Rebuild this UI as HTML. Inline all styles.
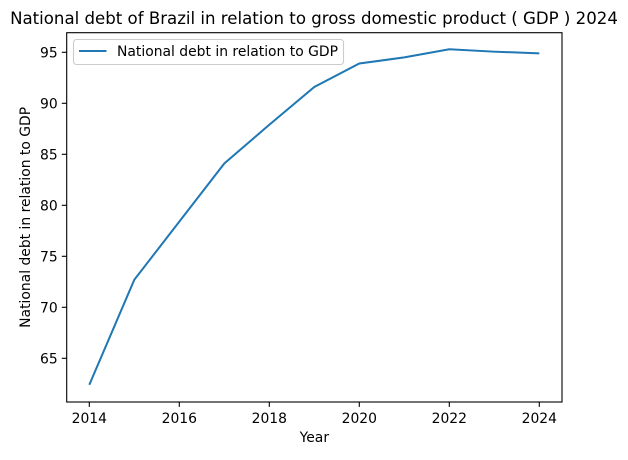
<!DOCTYPE html>
<html><head><meta charset="utf-8"><style>
body{margin:0;background:#fff;font-family:"Liberation Sans","DejaVu Sans",sans-serif;}
</style></head><body>
<svg id="chart" width="628" height="455" xmlns="http://www.w3.org/2000/svg" font-family="'DejaVu Sans','Liberation Sans',sans-serif">
<text x="314" y="24" text-anchor="middle" font-size="16.6">National debt of Brazil in relation to gross domestic product ( GDP ) 2024</text>
<g id="plot"></g>
</svg>
<script>
const years=[2014,2015,2016,2017,2018,2019,2020,2021,2022,2023,2024];
const debt=[62.4,72.7,78.4,84.1,87.9,91.6,93.9,94.5,95.3,95.06,94.9];
const xTicks=[2014,2016,2018,2020,2022,2024];
const yTicks=[65,70,75,80,85,90,95];
const L=66.7,R=562,T=32.7,B=402;
const sx=v=>89.3+(v-2014)*45;
const sy=v=>358.3-(v-65)*10.2;
const NS='http://www.w3.org/2000/svg';
const g=document.getElementById('plot');
function mk(t,a){const e=document.createElementNS(NS,t);for(const k in a)e.setAttribute(k,a[k]);g.appendChild(e);return e;}
xTicks.forEach(v=>{
 const l=mk('line',{x1:sx(v),x2:sx(v),y1:B,y2:B+4.9,stroke:'#000','stroke-width':1.1});
 
 
 const t=mk('text',{x:sx(v),y:B+21,'text-anchor':'middle','font-size':13.9});
 t.textContent=v;
 
 
});
yTicks.forEach(v=>{
 const l=mk('line',{x1:L-4.9,x2:L,y1:sy(v),y2:sy(v),stroke:'#000','stroke-width':1.1});
 
 
 const t=mk('text',{x:L-9,y:sy(v)+5,'text-anchor':'end','font-size':13.9});
 t.textContent=v;
 
 
});
const p=mk('polyline',{points:years.map((y,i)=>sx(y)+','+sy(debt[i])).join(' '),fill:'none',stroke:'#1f77b4','stroke-width':2});


const f=mk('rect',{x:L,y:T,width:R-L,height:B-T,fill:'none',stroke:'#000','stroke-width':1.1});


const xt=mk('text',{x:(L+R)/2,y:442,'text-anchor':'middle','font-size':13.9});
xt.textContent='Year';


const yt=mk('text',{x:0,y:0,'text-anchor':'middle','font-size':13.9,transform:'translate(30,'+((T+B)/2)+') rotate(-90)'});
yt.textContent='National debt in relation to GDP';


const lg=mk('rect',{x:73.5,y:39.5,width:270,height:25,rx:3,fill:'#fff','fill-opacity':0.8,stroke:'#ccc','stroke-width':1.1});


const ll=mk('line',{x1:79,x2:106.5,y1:51,y2:51,stroke:'#1f77b4','stroke-width':2});


const lt=mk('text',{x:117,y:56,'font-size':13.9});
lt.textContent='National debt in relation to GDP';


</script>
</body></html>
